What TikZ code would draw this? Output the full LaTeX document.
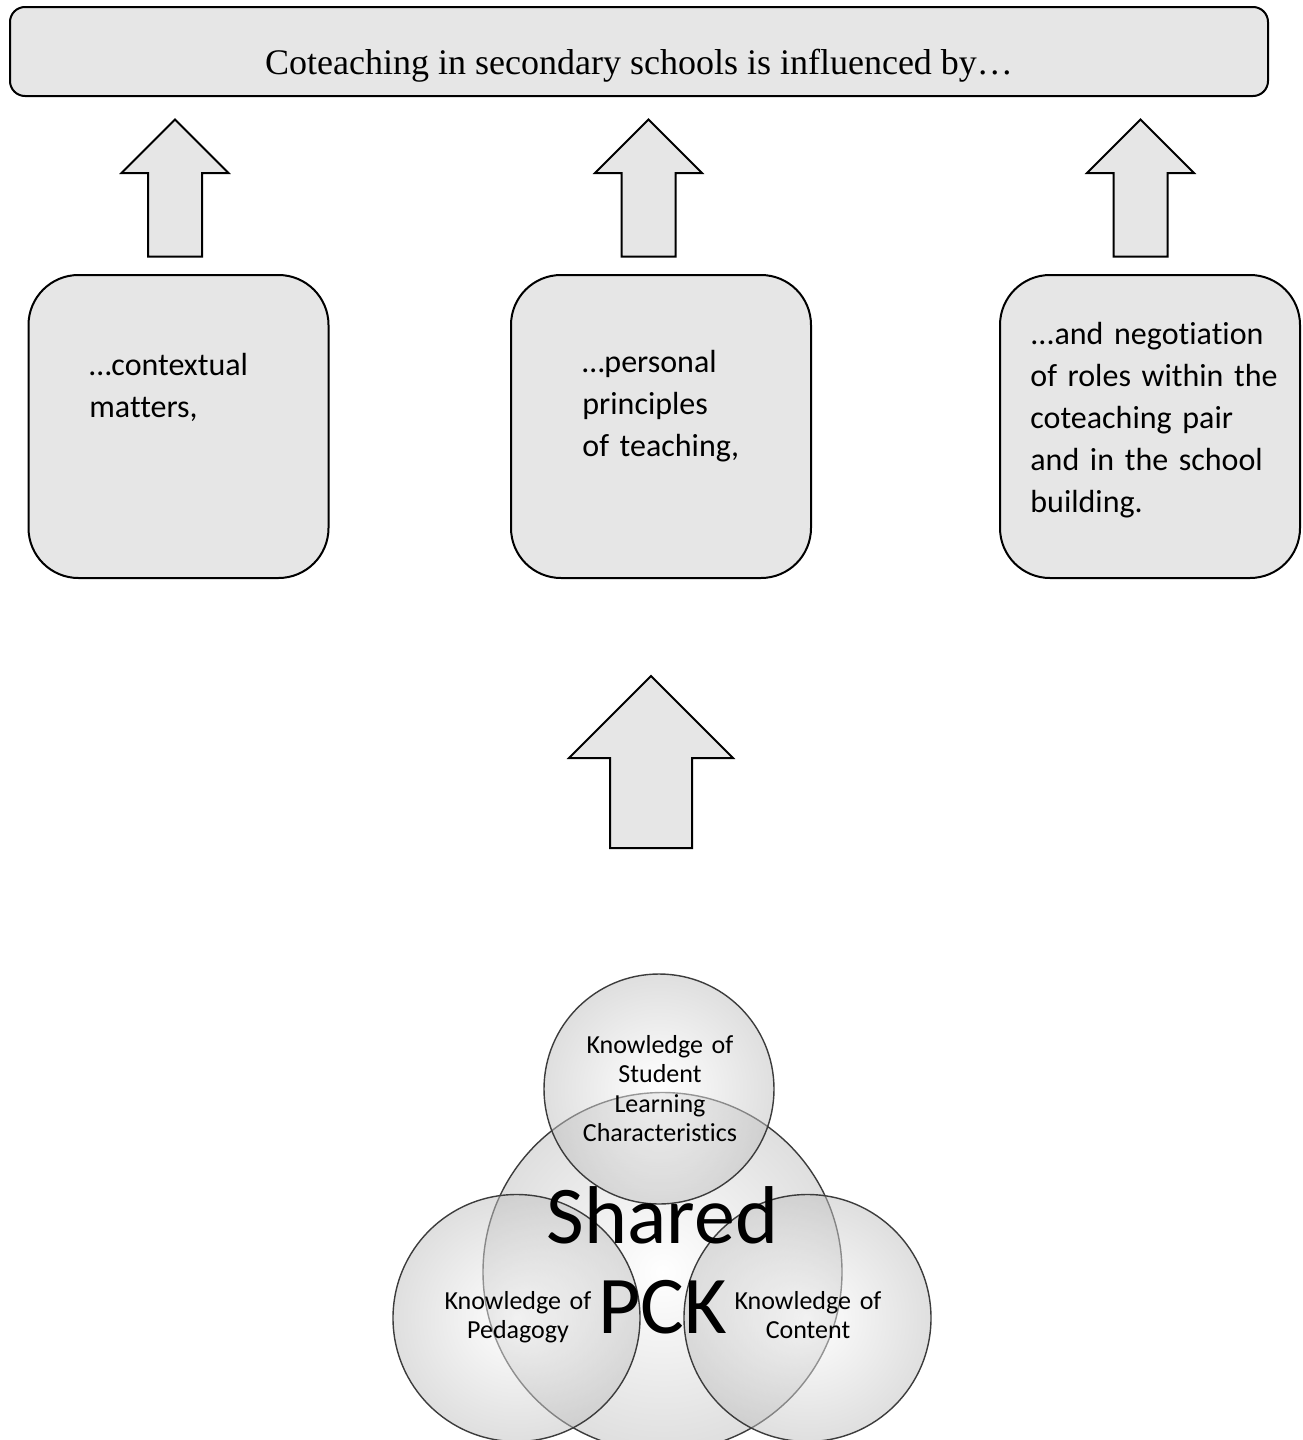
\documentclass[tikz,border=0pt]{standalone}
\usepackage{fontspec}
\setmainfont{Carlito}[Ligatures=NoCommon, WordSpace=0.85]
\newfontfamily\titlefont{Liberation Serif}
\usepackage{xcolor}
\usepackage{tikz}
\usetikzlibrary{positioning,shapes.arrows}
\definecolor{boxgray}{RGB}{230,230,230}
\definecolor{rimgray}{RGB}{60,60,60}

\begin{document}
\begin{tikzpicture}[
        x=0.5pt, y=-0.5pt,
        headline/.style={rectangle, rounded corners=7.5pt, draw=black, line width=1pt, fill=boxgray,
                         minimum width=629pt, minimum height=44.5pt, inner sep=0pt,
                         text height=25pt, text depth=2.5pt, font=\titlefont\fontsize{18}{22}\selectfont},
        factor/.style={rectangle, rounded corners=25pt, draw=black, line width=1pt, fill=boxgray,
                       minimum width=150pt, minimum height=151.5pt},
        factortext/.style={anchor=base west, text width=140pt, align=left, inner sep=0pt,
                           font=\fontsize{16}{21}\selectfont},
        uparrow/.style={single arrow, rotate=90, draw=black, line width=1pt, fill=boxgray,
                        inner xsep=0pt, inner ysep=13pt, minimum height=68.5pt,
                        single arrow head extend=13.25pt},
        bigarrow/.style={uparrow, inner ysep=20pt, minimum height=86pt,
                         single arrow head extend=20.5pt},
        bubble/.style={circle, draw=rimgray, line width=0.7pt, inner sep=0pt,
                       shade, inner color=white, outer color=black!25, fill opacity=0.5},
        bubbletext/.style={anchor=base, text width=150pt, align=center, inner sep=0pt,
                           fill opacity=1, text opacity=1, font=\fontsize{13}{14.75}\selectfont}
    ]
        \useasboundingbox (0,0) rectangle (1302,1440);

        % title bar
        \node[headline] (title) at (639,51.5) {Coteaching in secondary schools is influenced by…};

        % the three factors
        \node[factor] (matters) at (178.5,426.5) {};
        \node[factor] (principles) at (661,426.5) {};
        \node[factor] (roles) at (1150,426.5) {};
        \node[factortext] (matterstext) at ([xshift=30.75pt, yshift=-50.5pt]matters.north west)
            {…contextual\\matters,};
        \node[factortext] (principlestext) at ([xshift=36pt, yshift=-49pt]principles.north west)
            {…personal\\principles\\of teaching,};
        \node[factortext] (rolestext) at ([xshift=15.5pt, yshift=-35pt]roles.north west)
            {...and negotiation\\of roles within the\\coteaching pair\\and in the school\\building.};

        % block arrows
        \node[uparrow] (arrmatters) at (175,201.5) {};
        \node[uparrow] (arrprinciples) at (648.5,201.5) {};
        \node[uparrow] (arrroles) at (1140.5,201.5) {};
        \node[bigarrow] (arrpck) at (651,782.5) {};

        % PCK bubbles
        \node[bubble, minimum size=179.5pt] (shared) at (662.5,1272) {};
        \node[bubble, minimum size=123.5pt] (pedagogy) at (516.5,1318) {};
        \node[bubble, minimum size=123.5pt] (content) at (807.5,1318) {};
        \node[bubble, minimum size=115pt] (student) at (659,1089) {};
        \node[bubbletext, font=\fontsize{41}{45}\selectfont] (sharedtext) at (662.5,1243) {Shared\\PCK};
        \node[bubbletext] (pedagogytext) at (518,1309) {Knowledge of\\Pedagogy};
        \node[bubbletext] (contenttext) at (808,1309) {Knowledge of\\Content};
        \node[bubbletext] (studenttext) at (660,1053) {Knowledge of\\Student\\Learning\\Characteristics};
    \end{tikzpicture}
\end{document}
